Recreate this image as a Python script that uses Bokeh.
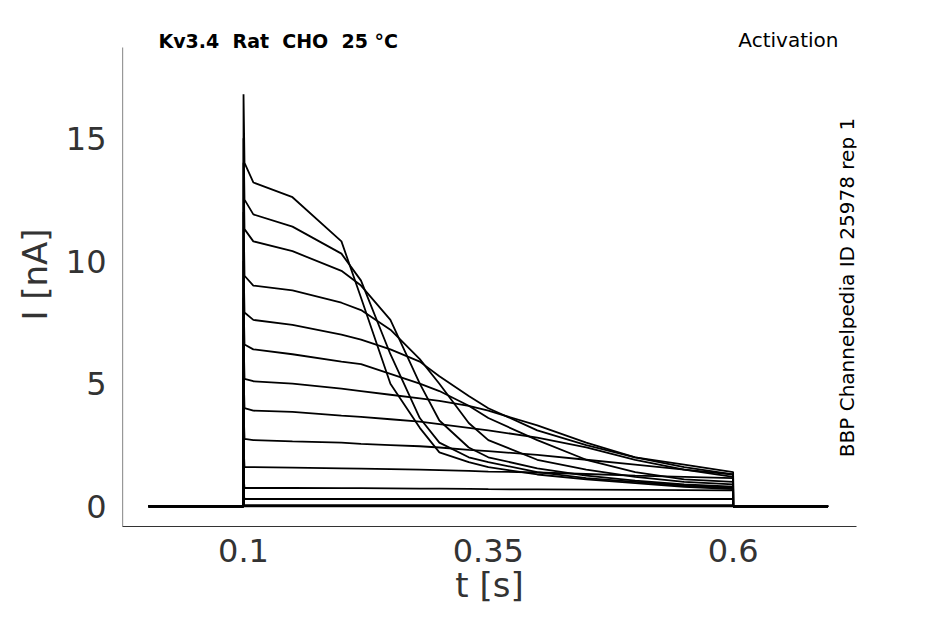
import math
from bokeh.plotting import figure
from bokeh.models import Label, Range1d, FixedTicker
from bokeh.embed import file_html
from bokeh.resources import INLINE

t = [0.003, 0.0999, 0.1, 0.101, 0.11, 0.15, 0.2, 0.22, 0.25, 0.28, 0.3, 0.33,
     0.35, 0.4, 0.45, 0.5, 0.55, 0.6, 0.6001, 0.697]

traces = [
    [0, 0, 16.8, 14.0, 13.2, 12.6, 10.8, 8.5, 5.0, 3.2, 2.2, 1.8, 1.6, 1.3, 1.1, 0.95, 0.8, 0.7, 0, 0],
    [0, 0, 15.0, 12.5, 11.9, 11.4, 10.3, 9.2, 6.2, 3.6, 2.6, 2.0, 1.8, 1.4, 1.15, 1.0, 0.85, 0.75, 0, 0],
    [0, 0, 14.0, 11.3, 10.8, 10.4, 9.6, 9.0, 7.6, 5.0, 3.5, 2.4, 2.0, 1.55, 1.25, 1.05, 0.9, 0.8, 0, 0],
    [0, 0, 12.0, 9.4, 9.0, 8.8, 8.3, 8.0, 7.2, 6.0, 5.0, 3.4, 2.7, 1.9, 1.5, 1.2, 1.0, 0.9, 0, 0],
    [0, 0, 10.0, 7.9, 7.6, 7.4, 7.0, 6.8, 6.4, 5.9, 5.3, 4.5, 4.0, 3.1, 2.5, 2.0, 1.7, 1.4, 0, 0],
    [0, 0, 8.5, 6.6, 6.4, 6.2, 5.9, 5.8, 5.4, 5.0, 4.7, 4.1, 3.6, 2.7, 1.9, 1.4, 1.1, 1.0, 0, 0],
    [0, 0, 7.0, 5.2, 5.1, 5.0, 4.8, 4.7, 4.55, 4.4, 4.3, 4.1, 3.9, 3.3, 2.6, 2.0, 1.6, 1.3, 0, 0],
    [0, 0, 5.5, 4.0, 3.9, 3.85, 3.7, 3.65, 3.55, 3.45, 3.35, 3.2, 3.1, 2.8, 2.4, 1.9, 1.5, 1.2, 0, 0],
    [0, 0, 4.0, 2.75, 2.7, 2.65, 2.6, 2.55, 2.5, 2.45, 2.4, 2.3, 2.25, 2.1, 1.9, 1.7, 1.5, 1.3, 0, 0],
    [0, 0, 2.5, 1.6, 1.6, 1.58, 1.55, 1.54, 1.52, 1.5, 1.48, 1.45, 1.42, 1.38, 1.32, 1.25, 1.2, 1.15, 0, 0],
    [0, 0, 1.2, 0.75, 0.75, 0.75, 0.74, 0.74, 0.73, 0.72, 0.72, 0.71, 0.7, 0.69, 0.68, 0.67, 0.66, 0.65, 0, 0],
    [0, 0, 0.5, 0.3, 0.3, 0.3, 0.3, 0.3, 0.3, 0.3, 0.3, 0.3, 0.3, 0.3, 0.3, 0.3, 0.3, 0.3, 0, 0],
    [0, 0, 0.1, 0.05, 0.05, 0.05, 0.05, 0.05, 0.05, 0.05, 0.05, 0.05, 0.05, 0.05, 0.05, 0.05, 0.05, 0.05, 0, 0],
    [0, 0, 0, 0, 0, 0, 0, 0, 0, 0, 0, 0, 0, 0, 0, 0, 0, 0, 0, 0],
]

x_ticks = [0.1, 0.35, 0.6]
y_ticks = [0, 5, 10, 15]

X0, X1 = -0.0236, 0.726
Y0, Y1 = -0.82, 18.7      # visible axis extent
Y_TOP = 19.72             # frame extends above the axis to hold the header texts

FL, FB = 122, 526  # frame left / bottom in page pixels
p = figure(width=930, height=608, output_backend="svg", toolbar_location=None,
           x_range=Range1d(X0, X1), y_range=Range1d(Y0, Y_TOP),
           min_border_left=122, min_border_right=74, min_border_top=22, min_border_bottom=82)
p.grid.visible = False
p.outline_line_color = None

for tr in traces:
    p.line(t, tr, line_color="black", line_width=1.8)

# left spine drawn only up to the data extent
p.segment(x0=[X0], y0=[Y0], x1=[X0], y1=[Y1], line_color="#333333", line_width=1.2)

p.xaxis.ticker = FixedTicker(ticks=x_ticks)
p.yaxis.ticker = FixedTicker(ticks=y_ticks)
p.xaxis.axis_label = "t [s]"
p.yaxis.axis_label = "I [nA]"
for ax in (p.xaxis, p.yaxis):
    ax.major_tick_line_color = None
    ax.minor_tick_line_color = None
    ax.axis_line_color = "#333333"
    ax.major_label_text_font = "DejaVu Sans"
    ax.major_label_text_font_size = "32px"
    ax.major_label_text_color = "#333333"
    ax.axis_label_text_font = "DejaVu Sans"
    ax.axis_label_text_font_size = "34px"
    ax.axis_label_text_font_style = "normal"
    ax.axis_label_text_color = "#333333"
p.yaxis.axis_line_color = None
p.xaxis.major_label_standoff = 6
p.yaxis.major_label_standoff = 10
p.xaxis.axis_label_standoff = 0
p.yaxis.axis_label_standoff = 8

nb = "\u00a0\u00a0"
p.add_layout(Label(x=158 - FL, y=FB - 40, x_units="screen", y_units="screen",
                   text=f"Kv3.4{nb}Rat{nb}CHO{nb}25 °C", text_font="DejaVu Sans",
                   text_color="black", text_font_size="19px", text_font_style="bold",
                   text_baseline="middle"))
p.add_layout(Label(x=838 - FL, y=FB - 39, x_units="screen", y_units="screen",
                   text="Activation", text_font="DejaVu Sans", text_color="black",
                   text_font_size="20px", text_align="right", text_baseline="middle"))
p.add_layout(Label(x=846 - FL, y=FB - 287, x_units="screen", y_units="screen",
                   text="BBP Channelpedia ID 25978 rep 1", text_font="DejaVu Sans",
                   text_color="black", text_font_size="20px", text_align="center",
                   text_baseline="middle", angle=math.pi / 2))

open("out.html", "w").write(file_html(p, INLINE))
